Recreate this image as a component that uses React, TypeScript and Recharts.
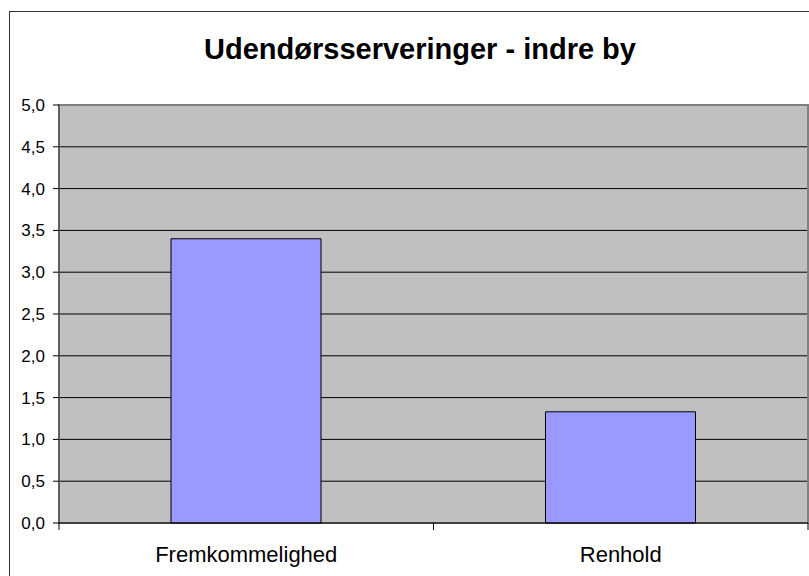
import React from "react";
import { BarChart, Bar, XAxis, YAxis, CartesianGrid, ReferenceArea } from "recharts";

const categories = ["Fremkommelighed", "Renhold"];
const values = [3.4, 1.33];
const yTicks = [0, 0.5, 1, 1.5, 2, 2.5, 3, 3.5, 4, 4.5, 5];
const title = "Udendørsserveringer - indre by";

const data = categories.map((c, i) => ({ name: c, value: values[i] }));

const FONT = "'Liberation Sans', Arial, sans-serif";

const XTick = (props: any) => {
  const { x, y, payload, index, width } = props;
  const band = width / categories.length;
  const left = x - band / 2;
  const right = x + band / 2;
  return (
    <g>
      <line x1={left} y1={y} x2={left} y2={y + 7} stroke="#000" strokeWidth={1} />
      {index === categories.length - 1 && (
        <line x1={right} y1={y} x2={right} y2={y + 7} stroke="#000" strokeWidth={1} />
      )}
      <text x={x} y={y + 39} textAnchor="middle" fontSize={22} fontFamily={FONT} fill="#000">
        {payload.value}
      </text>
    </g>
  );
};

export default function App() {
  return (
    <div style={{ position: "absolute", left: 0, top: 0, width: 809, height: 576, overflow: "hidden", background: "#fff" }}>
      <div
        style={{
          position: "absolute",
          left: 9,
          top: 11,
          width: 840,
          height: 600,
          border: "1.5px solid #333",
          boxSizing: "border-box",
        }}
      />
      <div
        style={{
          position: "absolute",
          left: 0,
          width: 840,
          top: 32,
          textAlign: "center",
          fontFamily: FONT,
          fontWeight: "bold",
          fontSize: 29,
          lineHeight: "34px",
          color: "#000",
        }}
      >
        {title}
      </div>
      <div style={{ position: "absolute", left: 0, top: 0 }}>
        <BarChart
          width={809}
          height={576}
          data={data}
          margin={{ top: 105, right: 1, bottom: 0, left: 0 }}
          barSize={150}
        >
          <CartesianGrid vertical={false} stroke="#000" fill="#C0C0C0" strokeOpacity={1} />
          <ReferenceArea y1={0} y2={5} fill="none" stroke="#808080" strokeWidth={2} ifOverflow="visible" />
          <XAxis
            dataKey="name"
            height={53}
            axisLine={{ stroke: "#000" }}
            tickLine={false}
            tickSize={0}
            tickMargin={0}
            tick={<XTick />}
            interval={0}
          />
          <YAxis
            width={59}
            domain={[0, 5]}
            ticks={yTicks}
            interval={0}
            tickFormatter={(v: number) => v.toFixed(1).replace(".", ",")}
            axisLine={{ stroke: "#404040" }}
            tickLine={{ stroke: "#000" }}
            tickSize={6}
            tickMargin={8}
            tick={{ fontSize: 17, fontFamily: FONT, fill: "#000" }}
          />
          <Bar dataKey="value" fill="#9999FF" stroke="#000" strokeWidth={1} isAnimationActive={false} />
        </BarChart>
      </div>
    </div>
  );
}
